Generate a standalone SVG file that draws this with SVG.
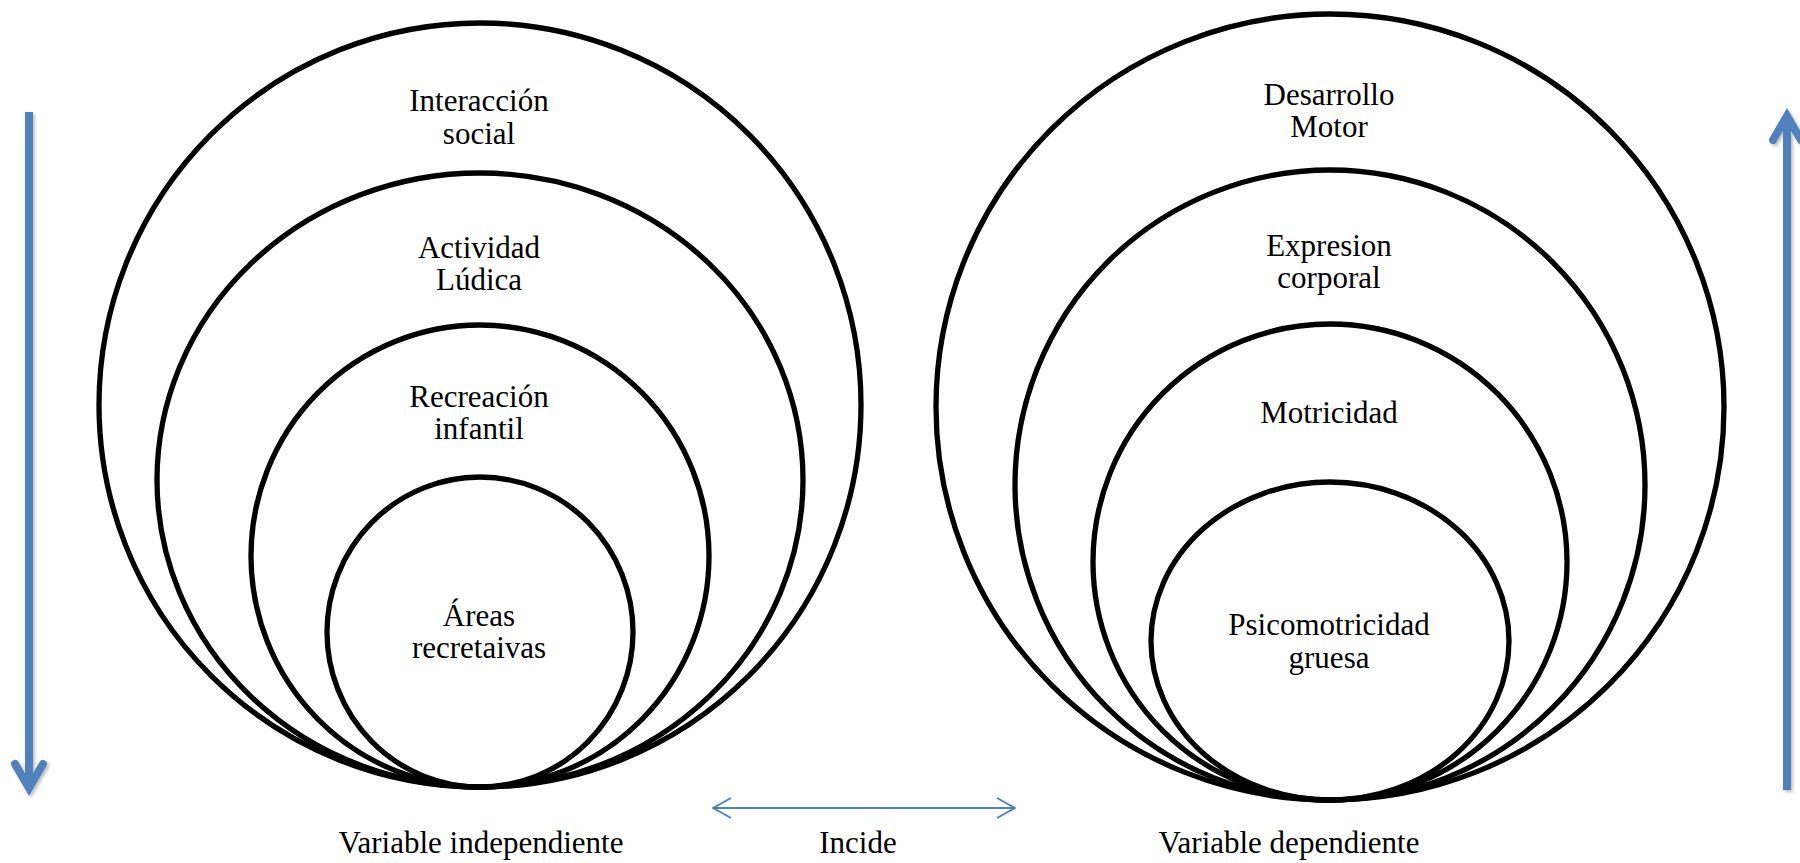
<svg xmlns="http://www.w3.org/2000/svg" width="1800" height="863" viewBox="0 0 1800 863">
<style>
.c{fill:none;stroke:#000;stroke-width:5.3}
.t{font-family:"Liberation Serif","Times New Roman",serif;font-size:31px;fill:#000;text-anchor:middle}
.big{fill:none;stroke:#4F81BD;stroke-width:8}
.thin{fill:none;stroke:#4F81BD;stroke-width:2}
</style>
<defs>
<filter id="sh" x="-50%" y="-10%" width="200%" height="120%">
<feDropShadow dx="2" dy="2" stdDeviation="1.5" flood-color="#000" flood-opacity="0.25"/>
</filter>
<marker id="ah" viewBox="0 0 20 22" refX="19" refY="11" markerWidth="20" markerHeight="22" markerUnits="userSpaceOnUse" orient="auto-start-reverse">
<path d="M1,1 L19,11 L1,21" fill="none" stroke="#4F81BD" stroke-width="2"/>
</marker>
</defs>
<rect width="1800" height="863" fill="#fff"/>
<g id="left-set">
<g id="n-interaccion"><ellipse class="c" cx="480" cy="405" rx="381" ry="382"/><text class="t" x="479" y="111">Interacción</text><text class="t" x="479" y="144">social</text></g>
<g id="n-actividad"><ellipse class="c" cx="480" cy="480" rx="323" ry="307"/><text class="t" x="479" y="258">Actividad</text><text class="t" x="479" y="290">Lúdica</text></g>
<g id="n-recreacion"><ellipse class="c" cx="480" cy="556" rx="229" ry="231"/><text class="t" x="479" y="407">Recreación</text><text class="t" x="479" y="439">infantil</text></g>
<g id="n-areas"><ellipse class="c" cx="480" cy="632" rx="153" ry="155"/><text class="t" x="479" y="626">Áreas</text><text class="t" x="479" y="658">recretaivas</text></g>
</g>
<g id="right-set">
<g id="n-desarrollo"><ellipse class="c" cx="1330" cy="407" rx="394" ry="393"/><text class="t" x="1329" y="105">Desarrollo</text><text class="t" x="1329" y="137">Motor</text></g>
<g id="n-expresion"><ellipse class="c" cx="1330" cy="485" rx="315" ry="315"/><text class="t" x="1329" y="256">Expresion</text><text class="t" x="1329" y="288">corporal</text></g>
<g id="n-motricidad"><ellipse class="c" cx="1330" cy="562" rx="237" ry="238"/><text class="t" x="1329" y="423">Motricidad</text></g>
<g id="n-psicomotricidad"><ellipse class="c" cx="1330" cy="641" rx="179" ry="159"/><text class="t" x="1329" y="635">Psicomotricidad</text><text class="t" x="1329" y="668">gruesa</text></g>
</g>
<g id="labels">
<text class="t" x="481" y="853">Variable independiente</text>
<text class="t" x="858" y="853">Incide</text>
<text class="t" x="1289" y="853">Variable dependiente</text>
</g>
<g id="connectors">
<g filter="url(#sh)">
<line class="big" x1="29" y1="112" x2="29" y2="786"/>
<polyline class="big" points="15,764 29,788 43,764" stroke-linecap="round" stroke-linejoin="miter"/>
</g>
<g filter="url(#sh)">
<line class="big" x1="1787" y1="790" x2="1787" y2="116"/>
<polyline class="big" points="1773,140 1787,116 1801,140" stroke-linecap="round" stroke-linejoin="miter"/>
</g>
<line class="thin" x1="713" y1="808" x2="1015" y2="808" marker-start="url(#ah)" marker-end="url(#ah)"/>
</g>
</svg>
